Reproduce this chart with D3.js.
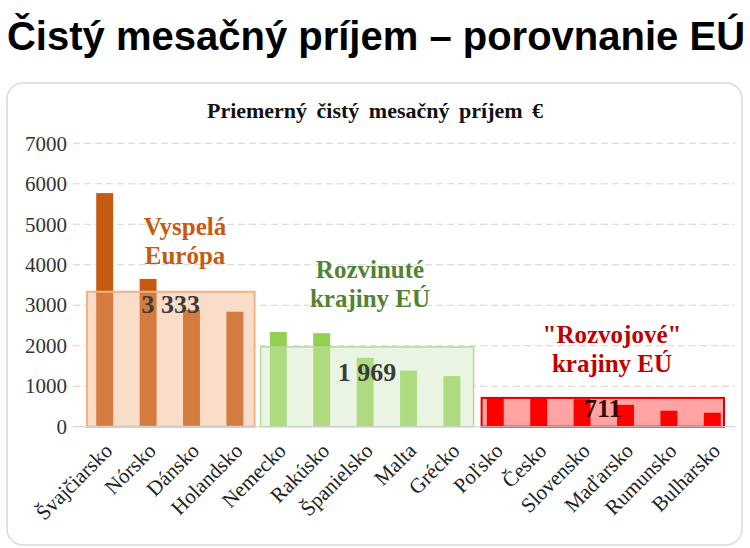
<!DOCTYPE html>
<html>
<head>
<meta charset="utf-8">
<script src="https://cdn.jsdelivr.net/npm/d3@7"></script>
<style>
  body { margin: 0; background: #fff; }
  svg { display: block; }
</style>
</head>
<body>
<div id="chart"></div>
<script>
// data
const countries = ["Švajčiarsko", "Nórsko", "Dánsko", "Holandsko", "Nemecko", "Rakúsko", "Španielsko",
  "Malta", "Grécko", "Poľsko", "Česko", "Slovensko", "Maďarsko", "Rumunsko", "Bulharsko"];
const income = [5770, 3650, 2880, 2840, 2340, 2310, 1700, 1385, 1250, 725, 725, 680, 540, 395, 345];
const groupNames = [["Vyspelá", "Európa"], ["Rozvinuté", "krajiny EÚ"], ["\"Rozvojové\"", "krajiny EÚ"]];
const groupFirst = [0, 4, 9];
const groupLast = [3, 8, 14];
const groupMean = [3333, 1969, 711];
const groupMeanLabel = ["3 333", "1 969", "711"];
const yTicks = [0, 1000, 2000, 3000, 4000, 5000, 6000, 7000];

const W = 750, H = 548;
const serif = "'Liberation Serif', 'Times New Roman', serif";

// per group look
const groupStyle = [
  { bar: "#c55a11", bg: "#fbe5d6", over: "#f8cbad", overOp: 0.3, stroke: "#f4b183", sw: 2, text: "#c55a11", mean: "#3a3a3a", lx: 185, ly: 235, my: 21, inset: [4, 2] },
  { bar: "#92d050", bg: "#eef6e8", over: "#e2f0d9", overOp: 0.35, stroke: "#b5d99c", sw: 1.5, text: "#548235", mean: "#3a3a3a", lx: 370, ly: 278, my: 34, inset: [4, 0] },
  { bar: "#ff0000", bg: "#ffa3a3", over: "#ffa3a3", overOp: 0, stroke: "#e00000", sw: 2, text: "#c00000", mean: "#3b0808", lx: 612, ly: 343, my: 19, inset: [8, 10] }
];
const groupOf = i => groupFirst.findIndex((f, g) => i >= f && i <= groupLast[g]);

const svg = d3.select("#chart").append("svg")
  .attr("width", W).attr("height", H);

svg.append("text")
  .attr("x", 376).attr("y", 50)
  .attr("text-anchor", "middle")
  .style("font-family", "'Liberation Sans', Arial, sans-serif")
  .style("font-weight", "bold")
  .style("font-size", "40px")
  .attr("fill", "#000")
  .text("Čistý mesačný príjem – porovnanie EÚ");

// frame
svg.append("rect")
  .attr("x", 7).attr("y", 83).attr("width", 735).attr("height", 462)
  .attr("rx", 16)
  .attr("fill", "#fff").attr("stroke", "#d9d9d9").attr("stroke-width", 1.5);

svg.append("text")
  .attr("x", 375).attr("y", 118)
  .attr("text-anchor", "middle")
  .style("font-family", serif).style("font-weight", "bold").style("font-size", "22px")
  .style("word-spacing", "4px")
  .attr("fill", "#111")
  .text("Priemerný čistý mesačný príjem €");

const x = d3.scaleBand().domain(countries).range([83, 734]).paddingInner(0.61).paddingOuter(0.305);
const y = d3.scaleLinear().domain([0, 7000]).range([426.7, 143.3]);

// grid
svg.append("g").selectAll("line")
  .data(yTicks.filter(d => d > 0))
  .join("line")
  .attr("x1", 73).attr("x2", 735)
  .attr("y1", d => y(d)).attr("y2", d => y(d))
  .attr("stroke", "#d4d4d4").attr("stroke-width", 1)
  .attr("stroke-dasharray", "7,4");

// y axis labels
const yAxis = svg.append("g")
  .attr("transform", "translate(73,0)")
  .call(d3.axisLeft(y).tickValues(yTicks).tickSize(0).tickPadding(6).tickFormat(d3.format("d")));
yAxis.select(".domain").remove();
yAxis.selectAll("text")
  .style("font-family", serif).style("font-size", "21px").attr("fill", "#333");

// box backgrounds
const boxX0 = g => x(countries[groupFirst[g]]) - (x.step() - x.bandwidth()) / 2 + groupStyle[g].inset[0];
const boxX1 = g => x(countries[groupLast[g]]) + x.bandwidth() + (x.step() - x.bandwidth()) / 2 - groupStyle[g].inset[1];

svg.append("g").selectAll("rect")
  .data(groupMean)
  .join("rect")
  .attr("x", (d, g) => boxX0(g))
  .attr("width", (d, g) => boxX1(g) - boxX0(g))
  .attr("y", d => y(d))
  .attr("height", d => y(0) - y(d))
  .attr("fill", (d, g) => groupStyle[g].bg);

// bars
svg.append("g").selectAll("rect")
  .data(income)
  .join("rect")
  .attr("x", (d, i) => x(countries[i]))
  .attr("width", x.bandwidth())
  .attr("y", d => y(d))
  .attr("height", d => y(0) - y(d))
  .attr("fill", (d, i) => groupStyle[groupOf(i)].bar);

// box overlays with border
svg.append("g").selectAll("rect")
  .data(groupMean)
  .join("rect")
  .attr("x", (d, g) => boxX0(g))
  .attr("width", (d, g) => boxX1(g) - boxX0(g))
  .attr("y", d => y(d))
  .attr("height", d => y(0) - y(d))
  .attr("fill", (d, g) => groupStyle[g].over)
  .attr("fill-opacity", (d, g) => groupStyle[g].overOp)
  .attr("stroke", (d, g) => groupStyle[g].stroke)
  .attr("stroke-width", (d, g) => groupStyle[g].sw);

// zero line
svg.append("line")
  .attr("x1", 73).attr("x2", 735)
  .attr("y1", y(0)).attr("y2", y(0))
  .attr("stroke", "#d0d0d0");

// mean labels
svg.append("g").selectAll("text")
  .data(groupMeanLabel)
  .join("text")
  .attr("x", (d, g) => (boxX0(g) + boxX1(g)) / 2)
  .attr("y", (d, g) => y(groupMean[g]) + groupStyle[g].my)
  .attr("text-anchor", "middle")
  .style("font-family", serif).style("font-weight", "bold").style("font-size", "26px")
  .attr("fill", (d, g) => groupStyle[g].mean)
  .text(d => d);

// group names
groupNames.forEach((lines, g) => {
  const t = svg.append("text")
    .attr("text-anchor", "middle")
    .style("font-family", serif).style("font-weight", "bold").style("font-size", "25px")
    .attr("fill", groupStyle[g].text);
  lines.forEach((s, k) => {
    t.append("tspan").attr("x", groupStyle[g].lx).attr("y", groupStyle[g].ly + k * 29).text(s);
  });
});

// category labels
svg.append("g").selectAll("text")
  .data(countries)
  .join("text")
  .attr("transform", d => "translate(" + (x(d) + x.bandwidth() / 2 + 9) + ",452) rotate(-45)")
  .attr("text-anchor", "end")
  .style("font-family", serif).style("font-size", "21px")
  .attr("fill", "#222")
  .text(d => d);
</script>
</body>
</html>
